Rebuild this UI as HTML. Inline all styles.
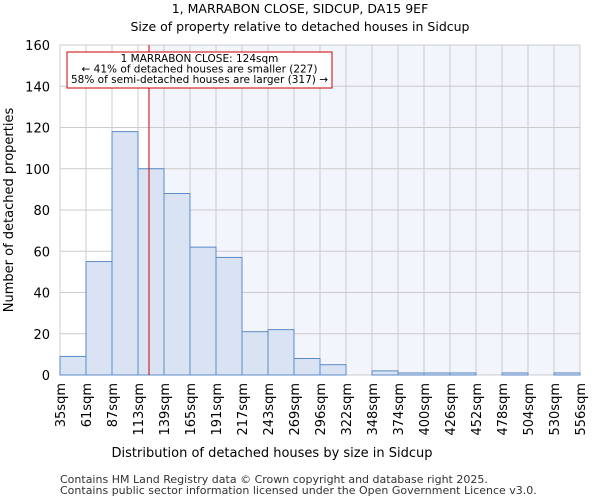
<!DOCTYPE html>
<html><head><meta charset="utf-8"><style>
body{margin:0;background:#fff;font-family:"DejaVu Sans","Liberation Sans",sans-serif}
</style></head><body>
<svg id="chart" width="600" height="500" xmlns="http://www.w3.org/2000/svg" font-family="DejaVu Sans, Liberation Sans, sans-serif">
<text x="300" y="13" text-anchor="middle" font-size="12.5">1, MARRABON CLOSE, SIDCUP, DA15 9EF</text>
<text x="300" y="31" text-anchor="middle" font-size="12.5">Size of property relative to detached houses in Sidcup</text>
<g id="plot"></g>
<text x="272" y="457" text-anchor="middle" font-size="13">Distribution of detached houses by size in Sidcup</text>
<text transform="translate(13,210) rotate(-90)" text-anchor="middle" font-size="13">Number of detached properties</text>
<text x="60" y="483" font-size="11" fill="#333">Contains HM Land Registry data © Crown copyright and database right 2025.</text>
<text x="60" y="494" font-size="11" fill="#333">Contains public sector information licensed under the Open Government Licence v3.0.</text>
</svg>
<script>
const categories=["35sqm","61sqm","87sqm","113sqm","139sqm","165sqm","191sqm","217sqm","243sqm","269sqm","296sqm","322sqm","348sqm","374sqm","400sqm","426sqm","452sqm","478sqm","504sqm","530sqm","556sqm"];
const counts=[9,55,118,100,88,62,57,21,22,8,5,0,2,1,1,1,0,1,0,1];
const yTicks=[0,20,40,60,80,100,120,140,160];
const binEdges=[35,61,87,113,139,165,191,217,243,269,296,322,348,374,400,426,452,478,504,530,556];
const propertySize=124;
const NS="http://www.w3.org/2000/svg";
const L=60,R=580,T=45,B=375,yMax=160;
const n=counts.length,bw=(R-L)/n;
const y=v=>B-(v/yMax)*(B-T);
const xi=i=>L+i*bw;
const xs=v=>{let i=0;while(i<n-1&&v>binEdges[i+1])i++;return xi(i)+(v-binEdges[i])/(binEdges[i+1]-binEdges[i])*bw;};
const g=document.getElementById('plot');
function mk(t,a){const e=document.createElementNS(NS,t);for(const k in a)e.setAttribute(k,a[k]);g.appendChild(e);return e;}
const lx=xs(propertySize);
let e=mk('rect',{x:L,y:T,width:R-L,height:B-T,fill:'#fff'});


e=mk('rect',{x:lx,y:T,width:R-lx,height:B-T,fill:'#f2f5fc'});


for(let i=0;i<=n;i++){e=mk('line',{x1:xi(i),x2:xi(i),y1:T,y2:B,stroke:'#cccccc','stroke-width':1});

}
yTicks.forEach(t=>{e=mk('line',{x1:L,x2:R,y1:y(t),y2:y(t),stroke:'#cccccc','stroke-width':1});


e=mk('text',{x:L-10,y:y(t)+5,'text-anchor':'end','font-size':13});e.textContent=t;

});
counts.forEach((c,i)=>{if(c<=0)return;e=mk('rect',{x:xi(i),y:y(c),width:bw,height:B-y(c),fill:'#dae3f3',stroke:'#5b8bc7','stroke-width':1});

});
categories.forEach((c,i)=>{e=mk('text',{transform:`translate(${xi(i)+5},${B+8}) rotate(-90)`,'text-anchor':'end','font-size':13});e.textContent=c;

});
e=mk('line',{x1:lx,x2:lx,y1:T,y2:B,stroke:'#cc0000','stroke-width':1});


e=mk('rect',{x:67,y:52,width:265,height:36,fill:'#fff',stroke:'#cc0000','stroke-width':1});


["1 MARRABON CLOSE: 124sqm","← 41% of detached houses are smaller (227)","58% of semi-detached houses are larger (317) →"].forEach((s,i)=>{e=mk('text',{x:199.5,y:62+i*10.5,'text-anchor':'middle','font-size':10.5});e.textContent=s;

});
</script>
</body></html>
